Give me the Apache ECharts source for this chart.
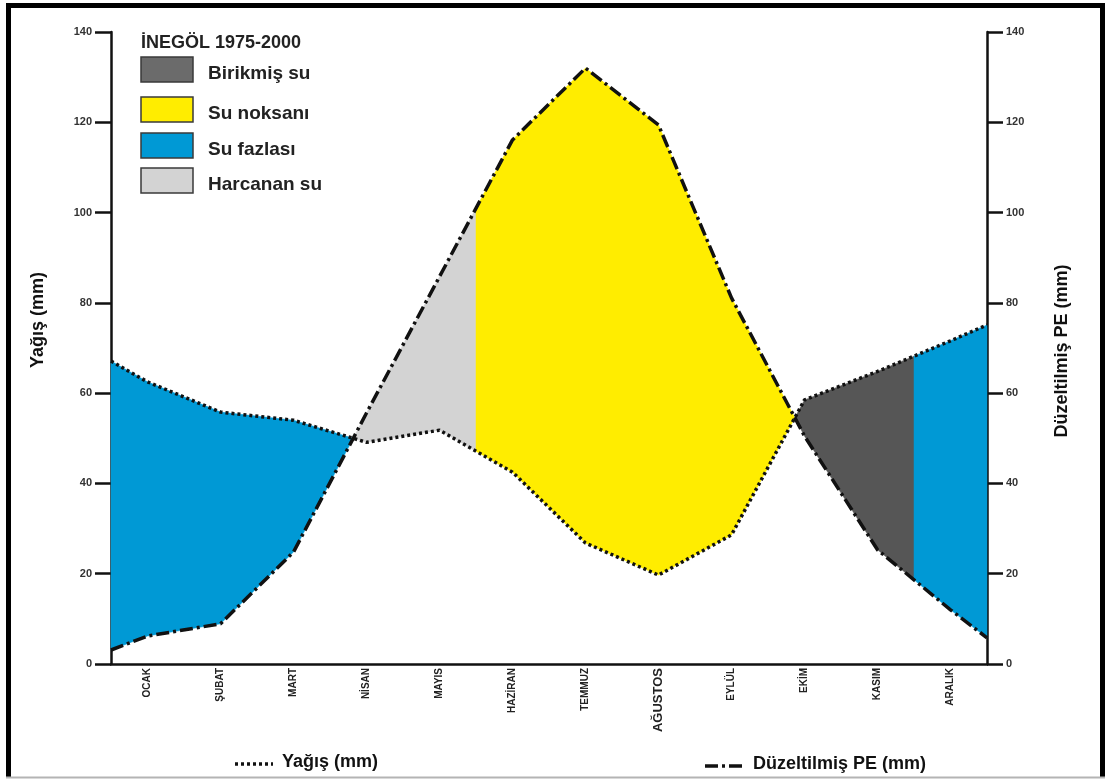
<!DOCTYPE html>
<html>
<head>
<meta charset="utf-8">
<title>İnegöl 1975-2000 su bilançosu</title>
<script src="https://cdn.jsdelivr.net/npm/echarts@6/dist/echarts.min.js"></script>
<style>
html, body { margin: 0; padding: 0; background: #fff; }
#chart { width: 1107px; height: 783px; }
</style>
</head>
<body>
<div id="chart"></div>
<script>
// aylar ve aylık değerler (mm)
var months = ['OCAK', 'ŞUBAT', 'MART', 'NİSAN', 'MAYIS', 'HAZİRAN', 'TEMMUZ', 'AĞUSTOS', 'EYLÜL', 'EKİM', 'KASIM', 'ARALIK'];
var yagis = [62.5, 55.8, 54.0, 49.1, 51.8, 42.5, 26.8, 19.7, 28.6, 58.5, 64.8, 71.6];
var pe = [6.2, 8.9, 24.8, 55.6, 85.8, 116.1, 132.0, 119.4, 81.1, 50.5, 25.3, 12.0];
// eğrilerin yan eksenlere değdiği değerler (ocak başı, aralık sonu)
var yagisEdge = [67.1, 75.1];
var peEdge = [3.1, 5.8];
// birikmiş suyun bittiği (mayıs sonu) ve dolduğu (kasım sonu) ay sınırları
var harcananEnd = 5;
var birikmisEnd = 11;

var legendNames = ['Birikmiş su', 'Su noksanı', 'Su fazlası', 'Harcanan su'];
var legendColors = ['#6b6b6b', '#ffed00', '#0099d5', '#d3d3d3'];
var areaColors = {fazla: '#0099d5', harcanan: '#d3d3d3', noksan: '#ffed00', birikmis: '#565656'};

function toPoints(vals, edge) {
    var p = [[0, edge[0]]];
    for (var i = 0; i < vals.length; i++) p.push([i + 0.5, vals[i]]);
    p.push([vals.length, edge[1]]);
    return p;
}
var yagisPts = toPoints(yagis, yagisEdge);
var pePts = toPoints(pe, peEdge);

function valAt(pts, x) {
    for (var i = 0; i < pts.length - 1; i++) {
        if (x >= pts[i][0] && x <= pts[i + 1][0]) {
            var t = (x - pts[i][0]) / (pts[i + 1][0] - pts[i][0]);
            return pts[i][1] + t * (pts[i + 1][1] - pts[i][1]);
        }
    }
    return pts[pts.length - 1][1];
}
function between(pts, a, b) {
    var out = [[a, valAt(pts, a)]];
    pts.forEach(function (p) { if (p[0] > a && p[0] < b) out.push(p); });
    out.push([b, valAt(pts, b)]);
    return out;
}

// yağış ve PE eğrilerinin kesiştiği noktalar
var cross = [];
for (var i = 0; i < yagisPts.length - 1; i++) {
    var d0 = yagisPts[i][1] - pePts[i][1];
    var d1 = yagisPts[i + 1][1] - pePts[i + 1][1];
    if (d0 * d1 < 0) {
        var t = d0 / (d0 - d1);
        cross.push(yagisPts[i][0] + t * (yagisPts[i + 1][0] - yagisPts[i][0]));
    }
}

var regions = [
    [0, cross[0], 'fazla'],
    [cross[0], harcananEnd, 'harcanan'],
    [harcananEnd, cross[1], 'noksan'],
    [cross[1], birikmisEnd, 'birikmis'],
    [birikmisEnd, months.length, 'fazla']
];

var font = '"Liberation Sans", Arial, Helvetica, sans-serif';
var chart = echarts.init(document.getElementById('chart'));

var graphic = [
    {type: 'polyline', z: 10, shape: {points: [[8.5, 778], [8.5, 5.5], [1102.5, 5.5], [1102.5, 778]]},
        style: {stroke: '#000', lineWidth: 5, fill: null}},
    {type: 'line', z: 10, shape: {x1: 6, y1: 777.5, x2: 1105, y2: 777.5}, style: {stroke: '#b4b4b4', lineWidth: 2}},
    {type: 'text', x: 141, y: 43, style: {text: 'İNEGÖL 1975-2000', font: 'bold 18px ' + font, fill: '#222', verticalAlign: 'middle'}},
    {type: 'text', x: 38, y: 320, rotation: Math.PI / 2,
        style: {text: 'Yağış (mm)', font: 'bold 18px ' + font, fill: '#111', align: 'center', verticalAlign: 'middle'}},
    {type: 'text', x: 1062, y: 351, rotation: Math.PI / 2,
        style: {text: 'Düzeltilmiş PE (mm)', font: 'bold 18px ' + font, fill: '#111', align: 'center', verticalAlign: 'middle'}},
    {type: 'line', shape: {x1: 235, y1: 764, x2: 273, y2: 764}, style: {stroke: '#111', lineWidth: 3.5, lineDash: [3, 3]}},
    {type: 'text', x: 282, y: 762, style: {text: 'Yağış (mm)', font: 'bold 18px ' + font, fill: '#111', verticalAlign: 'middle'}},
    {type: 'line', shape: {x1: 705, y1: 766, x2: 744, y2: 766}, style: {stroke: '#111', lineWidth: 3.5, lineDash: [13, 4, 3, 4]}},
    {type: 'text', x: 753, y: 764, style: {text: 'Düzeltilmiş PE (mm)', font: 'bold 18px ' + font, fill: '#111', verticalAlign: 'middle'}}
];
var boxTops = [57, 97, 133, 168];
legendNames.forEach(function (name, k) {
    graphic.push({type: 'rect', shape: {x: 141, y: boxTops[k], width: 52, height: 25},
        style: {fill: legendColors[k], stroke: '#3a3a3a', lineWidth: 1.5}});
    graphic.push({type: 'text', x: 208, y: boxTops[k] + 17,
        style: {text: name, font: 'bold 19px ' + font, fill: '#222', verticalAlign: 'middle'}});
});

var yAxisBase = {
    type: 'value',
    min: 0,
    max: 140,
    interval: 20,
    splitLine: {show: false},
    axisLine: {show: true, lineStyle: {color: '#111', width: 2.5}},
    axisTick: {show: true, length: 16, lineStyle: {color: '#111', width: 2.5}},
    axisLabel: {margin: 19, fontSize: 11, fontWeight: 'bold', color: '#333', fontFamily: font}
};

var option = {
    animation: false,
    textStyle: {fontFamily: font},
    grid: {left: 111, right: 120, top: 32, bottom: 119, containLabel: false, outerBoundsMode: 'none'},
    graphic: graphic,
    xAxis: [
        {
            type: 'category',
            data: months,
            boundaryGap: true,
            axisLine: {lineStyle: {color: '#111', width: 2.5}},
            axisTick: {length: 18, lineStyle: {color: '#111', width: 2.5}},
            axisLabel: {
                rotate: 90, margin: 4, fontSize: 10, fontWeight: 'bold', color: '#222', interval: 0,
                formatter: function (v) { return v === 'AĞUSTOS' ? '{big|' + v + '}' : v; },
                rich: {big: {fontSize: 13, fontWeight: 'bold', color: '#222'}}
            }
        },
        {type: 'value', min: 0, max: months.length, show: false}
    ],
    yAxis: [
        Object.assign({}, yAxisBase, {position: 'left'}),
        Object.assign({}, yAxisBase, {position: 'right'})
    ],
    series: [
        {
            type: 'custom',
            xAxisIndex: 1,
            yAxisIndex: 0,
            z: 1,
            data: regions.map(function (r) { return [r[0], r[1]]; }),
            encode: {x: [0, 1]},
            renderItem: function (params, api) {
                var r = regions[params.dataIndex];
                var top = between(yagisPts, r[0], r[1]);
                var bot = between(pePts, r[0], r[1]).reverse();
                var pts = top.concat(bot).map(function (p) { return api.coord(p); });
                var c = areaColors[r[2]];
                return {type: 'polygon', shape: {points: pts}, style: {fill: c, stroke: c, lineWidth: 0.5}};
            }
        },
        {
            name: 'Yağış (mm)',
            type: 'line',
            xAxisIndex: 1,
            yAxisIndex: 0,
            z: 3,
            symbol: 'none',
            data: yagisPts,
            lineStyle: {color: '#111', width: 3.5, type: [3, 3]}
        },
        {
            name: 'Düzeltilmiş PE (mm)',
            type: 'line',
            xAxisIndex: 1,
            yAxisIndex: 1,
            z: 4,
            symbol: 'none',
            data: pePts,
            lineStyle: {color: '#111', width: 3.5, type: [13, 4, 3, 4]}
        }
    ]
};

chart.setOption(option);
</script>
</body>
</html>
